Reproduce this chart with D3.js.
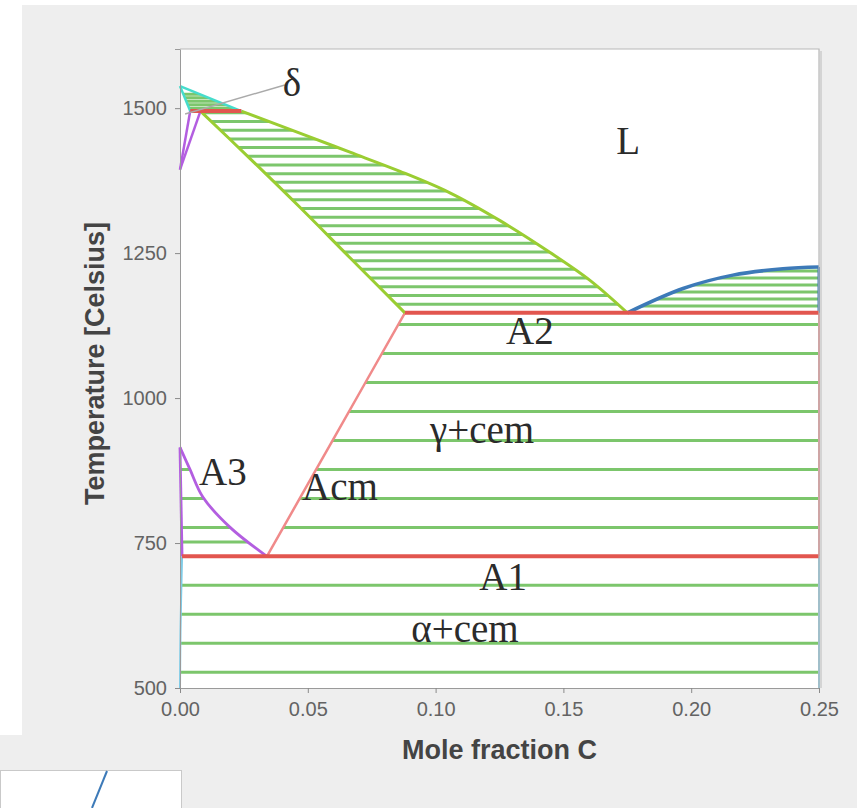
<!DOCTYPE html>
<html>
<head>
<meta charset="utf-8">
<script src="https://cdn.jsdelivr.net/npm/d3@7"></script>
<style>
  html, body { margin: 0; padding: 0; background: #ffffff; }
  svg { display: block; }
</style>
</head>
<body>
<svg id="chart" width="857" height="808"></svg>
<script>
// Fe–C phase diagram: temperature (°C) vs mole fraction of carbon.
// Each boundary is a list of [moleFractionC, temperatureC] points.

const xTicks = [0, 0.05, 0.10, 0.15, 0.20, 0.25];
const tempTicks = [500, 750, 1000, 1250, 1500];

// delta-iron corner
const deltaLiquidus = [[0, 1538], [0.024, 1495]];
const deltaSolidus = [[0, 1538], [0.004, 1495]];
const deltaGammaLow = [[0, 1394], [0.004, 1495]];
const deltaGammaHigh = [[0, 1394], [0.008, 1495]];
const peritectic = [[0.004, 1495], [0.024, 1495]];
const deltaLeader = [[0.002, 1490], [0.041, 1540]];

// austenite + liquid
const gammaLiquidus = [[0.024, 1495], [0.051, 1450], [0.0665, 1424], [0.0861, 1391],
  [0.1056, 1354], [0.1252, 1306], [0.1448, 1251], [0.1604, 1203], [0.175, 1147]];
const gammaSolidus = [[0.008, 1495], [0.0274, 1413], [0.0469, 1329], [0.0665, 1242], [0.088, 1147]];

// cementite liquidus
const cemLiquidus = [[0.175, 1147], [0.1968, 1189], [0.2163, 1212], [0.2359, 1223], [0.25, 1226]];
const cemEdgeHigh = [[0.25, 1147], [0.25, 1226]];

// eutectic (A2) and eutectoid (A1) isotherms
const eutectic = [[0.088, 1147], [0.25, 1147]];
const eutectoid = [[0.0008, 727], [0.25, 727]];

// Acm and cementite edge between the isotherms
const acm = [[0.034, 727], [0.061, 937], [0.088, 1147]];
const cemEdgeMid = [[0.25, 727], [0.25, 1147]];

// A3 and the ferrite boundary
const a3 = [[0, 915], [0.0039, 877], [0.009, 829], [0.0196, 777], [0.034, 727]];
const ferriteEdge = [[0, 915], [0.0008, 727]];
const ferriteSolvus = [[0.0008, 727], [0.0002, 600], [0, 500]];
const cemEdgeLow = [[0.25, 500], [0.25, 727]];

// tie-line temperatures in each two-phase field
const tieDeltaL = [1500, 1506, 1512, 1518, 1524];
const tieLGamma = [1162, 1177, 1192, 1207, 1222, 1237, 1252, 1267, 1282, 1297, 1312, 1327,
  1342, 1357, 1372, 1387, 1402, 1417, 1432, 1447, 1462, 1477, 1492];
const tieLCem = [1159, 1171, 1183, 1195, 1207, 1219];
const tieGammaCem = [777, 827, 877, 927, 977, 1027, 1077, 1127];
const tieAlphaGamma = [752, 777, 827, 877];
const tieAlphaCem = [527, 577, 627, 677];

// field labels: [text, moleFractionC, temperatureC]
const fieldLabels = [
  ["δ", 0.0438, 1545],
  ["L", 0.1753, 1445],
  ["A2", 0.1369, 1116],
  ["γ+cem", 0.1182, 946],
  ["A3", 0.0168, 873],
  ["Acm", 0.0626, 848],
  ["A1", 0.1264, 693],
  ["α+cem", 0.1115, 603]
];

const svg = d3.select("#chart");

// page background panels
svg.append("rect").attr("x", 22).attr("y", 5).attr("width", 835).attr("height", 730).attr("fill", "#eeeeee");
svg.append("rect").attr("x", 0).attr("y", 735).attr("width", 857).attr("height", 73).attr("fill", "#eeeeee");
svg.append("rect").attr("x", 0.5).attr("y", 770.5).attr("width", 181).attr("height", 45)
  .attr("fill", "#ffffff").attr("stroke", "#c9c9c9");
// edge of the following figure
svg.append("line").attr("x1", 107).attr("y1", 771).attr("x2", 92).attr("y2", 808)
  .attr("stroke", "#3d7ab8").attr("stroke-width", 2);

const plot = { left: 180, right: 819, top: 49, bottom: 688 };

const x = d3.scaleLinear().domain([0, 0.25]).range([plot.left, plot.right]);
const y = d3.scaleLinear().domain([500, 1602]).range([plot.bottom, plot.top]);

svg.append("rect")
  .attr("x", plot.left).attr("y", plot.top)
  .attr("width", plot.right - plot.left).attr("height", plot.bottom - plot.top)
  .attr("fill", "#ffffff");

const line = d3.line().x(d => x(d[0])).y(d => y(d[1])).curve(d3.curveCatmullRom.alpha(0.5));

// closed region from several boundary pieces, each walked in order
function region(...pieces) {
  return pieces.map((p, i) => {
    const d = line(p);
    return i === 0 ? d : "L" + d.slice(1);
  }).join("") + "Z";
}
const rev = a => a.slice().reverse();

const defs = svg.append("defs");
const fields = [
  { id: "f-deltaL", d: region(deltaLiquidus, rev(peritectic), rev(deltaSolidus)), ties: tieDeltaL },
  { id: "f-lgamma", d: region(gammaLiquidus, [[0.175, 1147], [0.088, 1147]], rev(gammaSolidus)), ties: tieLGamma },
  { id: "f-lcem", d: region(cemLiquidus, rev(cemEdgeHigh)), ties: tieLCem },
  { id: "f-gammacem", d: region(acm, eutectic, rev(cemEdgeMid), [[0.25, 727], [0.034, 727]]), ties: tieGammaCem },
  { id: "f-alphagamma", d: region(ferriteEdge, [[0.0008, 727], [0.034, 727]], rev(a3)), ties: tieAlphaGamma },
  { id: "f-alphacem", d: region(eutectoid, rev(cemEdgeLow), rev(ferriteSolvus)), ties: tieAlphaCem }
];

fields.forEach(f => {
  defs.append("clipPath").attr("id", f.id).append("path").attr("d", f.d);
});

// tie lines, each clipped to its two-phase field
const tieGroup = svg.append("g").attr("class", "ties");
fields.forEach(f => {
  tieGroup.append("g").attr("clip-path", `url(#${f.id})`)
    .selectAll("line").data(f.ties).join("line")
    .attr("x1", x(0)).attr("x2", x(0.25))
    .attr("y1", d => y(d)).attr("y2", d => y(d))
    .attr("stroke", "#7cc66c").attr("stroke-width", 3);
});

// phase boundaries
const boundaries = [
  { pts: ferriteSolvus, color: "#7fcbe6", w: 2 },
  { pts: cemEdgeLow, color: "#7fcbe6", w: 2 },
  { pts: cemEdgeMid, color: "#f08a8a", w: 2 },
  { pts: acm, color: "#f08a8a", w: 2.5 },
  { pts: a3, color: "#b35ee0", w: 2.8 },
  { pts: ferriteEdge, color: "#b35ee0", w: 2.8 },
  { pts: gammaSolidus, color: "#9acd32", w: 3 },
  { pts: gammaLiquidus, color: "#9acd32", w: 3 },
  { pts: cemLiquidus, color: "#3d7ab8", w: 3.5 },
  { pts: cemEdgeHigh, color: "#3d7ab8", w: 3 },
  { pts: deltaGammaLow, color: "#b35ee0", w: 2.5 },
  { pts: deltaGammaHigh, color: "#b35ee0", w: 2.5 },
  { pts: deltaLiquidus, color: "#46dccc", w: 2.5 },
  { pts: deltaSolidus, color: "#46dccc", w: 2.5 },
  { pts: eutectic, color: "#e2564f", w: 4 },
  { pts: eutectoid, color: "#e2564f", w: 4 },
  { pts: peritectic, color: "#e2564f", w: 4 },
  { pts: deltaLeader, color: "#aaaaaa", w: 1.5 }
];

svg.append("g").attr("class", "boundaries")
  .selectAll("path").data(boundaries).join("path")
  .attr("d", d => line(d.pts))
  .attr("fill", "none")
  .attr("stroke", d => d.color)
  .attr("stroke-width", d => d.w)
  .attr("stroke-linejoin", "round");

// field labels
svg.append("g").attr("class", "labels")
  .selectAll("text").data(fieldLabels).join("text")
  .attr("x", d => x(d[1])).attr("y", d => y(d[2]))
  .attr("dy", "0.35em")
  .attr("text-anchor", "middle")
  .attr("font-family", "'Liberation Serif', 'Times New Roman', serif")
  .attr("font-size", 39)
  .attr("fill", "#2b2b2b")
  .text(d => d[0]);

// axes
const xAxis = svg.append("g")
  .attr("transform", `translate(0,${plot.bottom})`)
  .call(d3.axisBottom(x).tickValues(xTicks).tickFormat(d3.format(".2f")).tickSize(5).tickPadding(9));
const yAxis = svg.append("g")
  .attr("transform", `translate(${plot.left},0)`)
  .call(d3.axisLeft(y).tickValues(tempTicks).tickFormat(d3.format("d")).tickSize(5).tickPadding(8));

[xAxis, yAxis].forEach(a => {
  a.select(".domain").attr("stroke", "#9a9a9a");
  a.selectAll(".tick line").attr("stroke", "#8a8a8a");
  a.selectAll(".tick text")
    .attr("font-family", "'Liberation Sans', Arial, sans-serif")
    .attr("font-size", 20)
    .attr("fill", "#636363");
});

// frame top and right
svg.append("path")
  .attr("d", `M${plot.left},${plot.top}H${plot.right}V${plot.bottom}`)
  .attr("fill", "none").attr("stroke", "#b8b8b8").attr("stroke-width", 1.2);
svg.append("line")
  .attr("x1", plot.right + 2).attr("x2", plot.right + 2)
  .attr("y1", plot.top + 2).attr("y2", plot.bottom)
  .attr("stroke", "#d4d4d4").attr("stroke-width", 2);

// axis titles
svg.append("text")
  .attr("x", (plot.left + plot.right) / 2).attr("y", 759)
  .attr("text-anchor", "middle")
  .attr("font-family", "'Liberation Sans', Arial, sans-serif")
  .attr("font-weight", "bold").attr("font-size", 27)
  .attr("fill", "#444444")
  .text("Mole fraction C");

svg.append("text")
  .attr("transform", `translate(104,${(plot.top + plot.bottom) / 2 - 5}) rotate(-90)`)
  .attr("text-anchor", "middle")
  .attr("font-family", "'Liberation Sans', Arial, sans-serif")
  .attr("font-weight", "bold").attr("font-size", 27)
  .attr("fill", "#444444")
  .text("Temperature [Celsius]");
</script>
</body>
</html>
